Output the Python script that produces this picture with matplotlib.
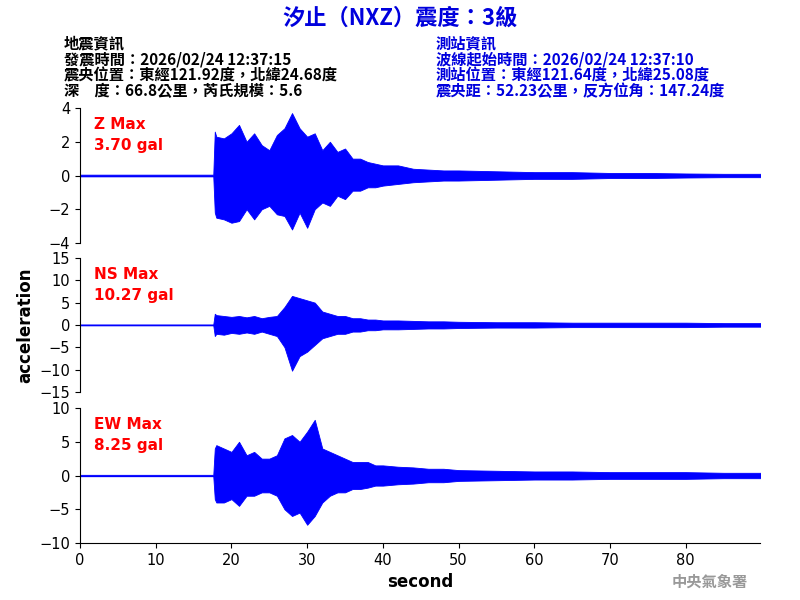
import matplotlib
matplotlib.use("Agg")
import matplotlib.pyplot as plt
import numpy as np

plt.rcParams['font.family'] = ['Noto Sans CJK TC', 'DejaVu Sans']

# envelope sample times (s)
t = [0, 17.6, 17.8, 18, 19, 20, 21, 22, 23, 24, 25, 26, 27, 28, 29, 30, 31, 32, 33, 34, 35,
     36, 37, 38, 39, 40, 42, 44, 46, 48, 50, 55, 60, 65, 70, 75, 80, 85, 90]
z_up = [0.05, 0.05, 2.6, 2.3, 2.2, 2.5, 3.0, 2.0, 2.5, 1.8, 1.5, 2.4, 2.8, 3.7, 2.8, 2.3, 2.5, 1.5, 2.0, 1.4, 1.6,
        1.0, 1.0, 0.8, 0.7, 0.6, 0.6, 0.4, 0.35, 0.3, 0.3, 0.25, 0.2, 0.2, 0.15, 0.15, 0.12, 0.1, 0.1]
z_lo = [-0.05, -0.05, -2.2, -2.5, -2.6, -2.8, -2.7, -2.0, -2.6, -2.0, -1.8, -2.3, -2.4, -3.2, -2.2, -3.1, -2.0, -1.6, -1.8, -1.2, -1.4,
        -0.9, -0.9, -0.7, -0.7, -0.6, -0.5, -0.4, -0.35, -0.3, -0.3, -0.25, -0.2, -0.2, -0.15, -0.15, -0.12, -0.1, -0.1]
ns_up = [0.1, 0.1, 2.5, 2.2, 2.0, 1.8, 2.0, 1.7, 2.0, 1.5, 1.8, 2.0, 4.0, 6.5, 6.0, 5.5, 5.0, 3.0, 2.5, 2.0, 2.0,
         1.5, 1.5, 1.2, 1.2, 1.0, 1.0, 0.9, 0.8, 0.8, 0.7, 0.6, 0.6, 0.5, 0.5, 0.5, 0.5, 0.4, 0.4]
ns_lo = [-0.1, -0.1, -2.5, -2.0, -2.2, -1.8, -2.0, -1.7, -2.0, -1.5, -2.0, -2.5, -5.0, -10.27, -7.0, -6.0, -4.5, -3.0, -2.5, -2.0, -2.0,
         -1.5, -1.5, -1.2, -1.2, -1.0, -1.0, -0.9, -0.8, -0.8, -0.7, -0.6, -0.6, -0.5, -0.5, -0.5, -0.5, -0.4, -0.4]
ew_up = [0.1, 0.1, 4.0, 4.5, 4.0, 3.5, 5.0, 3.0, 3.5, 2.5, 2.5, 3.0, 5.5, 6.0, 5.0, 6.5, 8.25, 4.0, 3.5, 3.0, 2.5,
         2.0, 2.0, 2.0, 1.5, 1.5, 1.3, 1.2, 1.0, 1.0, 0.8, 0.7, 0.6, 0.6, 0.5, 0.5, 0.5, 0.4, 0.4]
ew_lo = [-0.1, -0.1, -3.5, -4.0, -4.0, -3.5, -4.5, -3.0, -3.0, -2.5, -2.5, -3.0, -5.0, -6.0, -5.5, -7.3, -6.0, -4.0, -3.0, -2.5, -2.5,
         -2.0, -2.0, -1.8, -1.5, -1.5, -1.3, -1.2, -1.0, -1.0, -0.8, -0.7, -0.6, -0.6, -0.5, -0.5, -0.5, -0.4, -0.4]

panels = [
    ("Z Max", "3.70 gal", z_up, z_lo, (-4, 4), [-4, -2, 0, 2, 4]),
    ("NS Max", "10.27 gal", ns_up, ns_lo, (-15, 15), [-15, -10, -5, 0, 5, 10, 15]),
    ("EW Max", "8.25 gal", ew_up, ew_lo, (-10, 10), [-10, -5, 0, 5, 10]),
]
rects = [(0.1, 0.595, 0.85, 0.225), (0.1, 0.347, 0.85, 0.223), (0.1, 0.095, 0.85, 0.225)]

fig = plt.figure(figsize=(8, 6), dpi=100)
for i, ((name, val, up, lo, yl, yt), r) in enumerate(zip(panels, rects)):
    ax = fig.add_axes(r)
    ax.fill_between(t, lo, up, color='blue', lw=0.6, edgecolor='blue')
    ax.axhline(0, color='blue', lw=0.8)
    ax.set_xlim(0, 89.8)
    ax.set_ylim(*yl)
    ax.set_yticks(yt)
    ax.tick_params(labelsize=10.5)
    for lab in ax.get_yticklabels() + ax.get_xticklabels():
        lab.set_family('DejaVu Sans')
    for s in ['top', 'right']:
        ax.spines[s].set_visible(False)
    if i < 2:
        ax.spines['bottom'].set_visible(False)
        ax.set_xticks([])
    else:
        ax.set_xticks([0, 10, 20, 30, 40, 50, 60, 70, 80])
        for lab in ax.get_xticklabels():
            lab.set_family('DejaVu Sans')
        ax.set_xlabel("second", fontsize=12, fontweight='bold', family='DejaVu Sans')
    ax.text(0.02, 0.93, name + "\n" + val, transform=ax.transAxes, color='red',
            fontsize=11, fontweight='bold', va='top', family='DejaVu Sans', linespacing=1.5)
    if i == 1:
        ax.set_ylabel("acceleration", fontsize=12, fontweight='bold', family='DejaVu Sans')

fig.text(0.5, 0.97, "汐止（NXZ）震度：3級", color='#0000dd', fontsize=16, fontweight='bold',
         ha='center', va='center')
left = ["地震資訊", "發震時間：2026/02/24 12:37:15", "震央位置：東經121.92度，北緯24.68度", "深　度：66.8公里，芮氏規模：5.6"]
right = ["測站資訊", "波線起始時間：2026/02/24 12:37:10", "測站位置：東經121.64度，北緯25.08度", "震央距：52.23公里，反方位角：147.24度"]
for k, (a, b) in enumerate(zip(left, right)):
    y = 0.928 - k * 0.0267
    fig.text(0.08, y, a, color='black', fontsize=11, fontweight='bold', va='center')
    fig.text(0.545, y, b, color='#0000dd', fontsize=11, fontweight='bold', va='center')
fig.text(0.935, 0.03, "中央氣象署", color='#999999', fontsize=11, fontweight='bold', ha='right', va='center')
fig.savefig("out.png")
